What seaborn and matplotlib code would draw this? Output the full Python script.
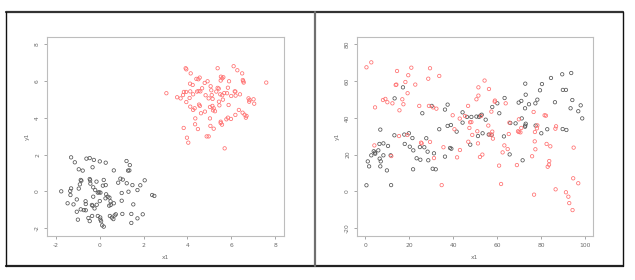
import numpy as np
import pandas as pd
import matplotlib
matplotlib.use("Agg")
import matplotlib.pyplot as plt
import seaborn as sns
from matplotlib.lines import Line2D

# ---------------- data ----------------
left_black_x = [-1.31, -1.14, -0.61, -0.46, -0.27, 0.00, 0.27, 1.22, 1.37, -0.96, -0.78, -0.33, 0.64, 1.29, 1.35,
                -0.87, -0.84, -0.46, -0.44, -0.15, 0.18, -0.91, -0.43, 0.14, 0.27, 0.84, 0.94, 1.05, 1.23, 1.49,
                1.85, 2.05, -0.96, -0.30, -0.21, -1.31, -1.76, -1.35, -0.09, -0.03, 0.03, 1.31, 1.00, 1.72, -1.34,
                0.29, 0.36, 0.44, -0.30, 0.00, 0.49, 0.26, -1.05, -1.47, -1.20, -0.65, -0.64, -0.36, -0.33, -0.14,
                0.64, 0.43, 0.50, 1.00, 1.53, 2.39, 2.49, -0.24, -0.87, -0.73, -0.64, -1.05, 0.73, 0.68, 0.46,
                0.55, 0.62, 1.03, 1.44, 1.96, 1.72, -0.52, -0.46, -0.35, -0.09, 0.02, 0.03, 0.06, 0.11, 0.18,
                -1.00, 1.44]
left_black_y = [1.85, 1.58, 1.78, 1.81, 1.71, 1.63, 1.56, 1.65, 1.43, 1.20, 1.13, 1.31, 1.14, 1.13, 1.14,
                0.62, 0.58, 0.67, 0.60, 0.53, 0.62, 0.38, 0.42, 0.31, 0.34, 0.47, 0.69, 0.64, 0.44, 0.34,
                0.33, 0.60, 0.15, 0.22, 0.07, 0.16, 0.00, 0.02, -0.07, -0.05, -0.07, -0.02, -0.09, 0.07, -0.20,
                -0.16, -0.29, -0.34, -0.29, -0.53, -0.54, -0.38, -0.44, -0.65, -0.71, -0.54, -0.69, -0.74, -0.78, -0.73,
                -0.65, -0.78, -0.74, -0.51, -0.71, -0.20, -0.25, -0.93, -0.98, -1.02, -1.03, -1.11, -1.25, -1.31, -1.34,
                -1.43, -1.51, -1.23, -1.23, -1.25, -1.47, -1.45, -1.62, -1.34, -1.34, -1.42, -1.54, -1.63, -1.85, -1.92,
                -1.54, -1.72]

left_red_x = [3.92, 3.95, 4.15, 3.04, 3.53, 3.69, 3.80, 3.84, 3.94, 3.95, 4.10, 4.13, 4.12, 4.24, 4.26,
              4.41, 4.50, 4.56, 4.44, 4.51, 4.59, 4.67, 4.79, 4.92, 4.97, 4.83, 4.57, 4.53, 4.13, 4.26,
              4.33, 5.09, 5.06, 5.11, 5.15, 5.03, 5.14, 5.20, 5.17, 5.26, 5.32, 5.38, 5.43, 5.44, 5.46,
              5.50, 5.53, 5.52, 5.59, 5.64, 5.59, 5.62, 5.68, 5.81, 5.85, 5.88, 5.90, 6.00, 6.11, 6.19,
              6.20, 6.16, 6.28, 6.35, 6.40, 6.50, 6.53, 6.55, 6.57, 6.52, 6.61, 6.67, 6.70, 6.79, 6.82,
              6.84, 7.02, 7.05, 7.60, 4.36, 4.35, 4.48, 3.83, 5.03, 5.05, 5.20, 5.52, 5.52, 5.58, 5.78,
              5.85, 5.99, 6.19, 3.98, 4.04, 4.88, 4.97, 5.70, 5.38, 4.80, 4.62]
left_red_y = [6.70, 6.64, 6.42, 5.34, 5.12, 5.06, 5.24, 5.41, 5.41, 4.86, 5.08, 5.44, 5.86, 5.79, 5.28,
              6.12, 6.10, 6.19, 5.43, 5.46, 5.44, 5.61, 5.90, 5.99, 5.06, 5.23, 4.65, 4.72, 4.61, 4.43,
              4.52, 5.50, 5.72, 5.24, 5.03, 4.59, 4.65, 4.52, 4.41, 4.36, 5.43, 5.63, 5.59, 4.88, 4.68,
              5.28, 6.24, 6.03, 6.15, 6.21, 5.23, 4.99, 5.35, 5.34, 5.64, 4.70, 5.99, 5.19, 6.81, 5.43,
              5.21, 5.44, 6.59, 4.43, 5.28, 6.42, 6.06, 5.99, 5.92, 4.28, 4.17, 4.01, 4.10, 5.06, 4.88,
              4.97, 5.01, 4.77, 5.92, 3.97, 3.65, 3.39, 3.45, 3.97, 3.56, 3.41, 3.79, 3.72, 3.63, 3.92,
              4.01, 3.94, 4.16, 2.92, 2.65, 2.99, 2.99, 2.34, 6.70, 4.34, 4.25]

right_red_x = [0.5, 2.7, 4.4, 4.1, 8.0, 9.1, 10.0, 12.3, 11.8, 14.4, 14.1, 13.8, 15.5, 15.3, 16.8,
               17.3, 18.2, 19.2, 19.5, 19.1, 20.9, 22.7, 24.5, 25.6, 25.3, 29.4, 28.6, 28.9, 29.4, 30.8,
               31.2, 32.3, 33.6, 34.7, 35.5, 39.7, 40.5, 41.7, 43.0, 42.9, 45.3, 46.7, 46.8, 47.3, 47.6,
               48.2, 48.6, 51.4, 51.4, 50.5, 50.9, 51.2, 52.1, 53.2, 52.6, 54.2, 55.9, 56.2, 56.5, 57.3,
               57.4, 58.0, 57.7, 58.9, 58.8, 60.8, 61.7, 62.4, 63.2, 63.8, 64.7, 65.5, 65.2, 68.9, 69.4,
               69.8, 69.8, 70.5, 70.9, 75.8, 76.5, 77.0, 77.1, 77.3, 76.7, 78.0, 78.2, 81.5, 82.1, 82.4,
               82.9, 83.6, 83.5, 84.1, 86.4, 86.5, 86.7, 91.2, 92.3, 92.7, 94.2, 94.5, 94.7, 96.8]
right_red_y = [67.5, 70.2, 45.7, 25.0, 49.7, 50.3, 48.5, 47.9, 19.2, 65.5, 58.1, 57.9, 44.1, 30.1, 50.1,
               47.4, 59.5, 53.4, 63.2, 30.7, 67.3, 58.1, 46.5, 26.1, 26.5, 67.0, 61.3, 46.5, 26.9, 45.7,
               18.1, 45.0, 62.8, 3.4, 24.0, 41.4, 33.8, 18.5, 22.5, 39.6, 41.0, 46.5, 27.0, 34.5, 37.6,
               37.7, 30.7, 56.6, 52.1, 50.1, 32.7, 26.1, 18.7, 20.0, 41.0, 60.3, 35.8, 55.7, 30.9, 43.4,
               30.9, 28.7, 32.5, 49.4, 48.8, 14.0, 4.0, 21.2, 25.0, 47.9, 23.0, 37.4, 31.2, 14.3, 32.7,
               39.2, 32.3, 32.1, 34.5, 19.1, 43.2, 27.2, 32.3, 22.9, -1.8, 34.3, 35.9, 41.4, 41.2, 25.8,
               13.4, 16.5, 14.5, 24.5, 34.1, 1.1, 35.4, -0.5, -2.9, -6.4, -10.2, 7.1, 23.8, 4.4]

right_black_x = [0.5, 1.1, 1.7, 2.7, 3.8, 4.4, 4.5, 5.9, 6.5, 6.8, 7.0, 6.4, 6.8, 8.2, 8.2,
                 10.3, 9.8, 11.5, 11.7, 13.3, 13.2, 17.1, 17.7, 17.9, 19.8, 20.2, 21.4, 21.7, 21.8, 23.3,
                 24.8, 25.0, 25.9, 26.8, 27.7, 28.3, 28.6, 30.2, 30.6, 31.2, 32.0, 33.6, 36.2, 37.4, 37.4,
                 38.9, 38.5, 39.1, 36.2, 41.5, 44.2, 44.2, 46.2, 47.7, 48.2, 50.5, 51.2, 51.7, 52.3, 52.9,
                 53.3, 54.7, 56.1, 57.4, 57.7, 60.0, 60.9, 63.0, 63.3, 65.6, 65.9, 68.3, 69.7, 70.9, 71.1,
                 72.6, 72.6, 72.7, 72.9, 72.7, 72.9, 74.4, 77.4, 77.3, 78.2, 79.4, 80.0, 80.3, 82.7, 84.4,
                 86.2, 89.5, 89.8, 91.2, 91.4, 89.7, 93.6, 94.1, 93.3, 96.8, 97.9, 98.6, 71.5]
right_black_y = [3.3, 16.3, 13.6, 19.6, 21.8, 21.1, 20.5, 22.3, 17.8, 13.6, 16.3, 25.8, 33.6, 26.1, 19.6,
                 24.7, 11.4, 19.6, 3.4, 50.6, 30.5, 56.6, 30.9, 25.8, 31.6, 24.3, 29.0, 12.0, 22.3, 18.0,
                 24.1, 17.2, 42.5, 24.0, 28.9, 21.6, 16.9, 46.5, 12.3, 20.7, 12.0, 33.8, 44.5, 47.2, 35.6,
                 36.1, 23.6, 23.2, 18.9, 32.5, 43.0, 37.4, 40.5, 25.4, 40.5, 40.7, 30.1, 40.5, 41.2, 41.7,
                 31.6, 39.0, 30.9, 30.7, 45.9, 47.9, 42.5, 29.9, 50.8, 20.1, 37.2, 37.0, 48.3, 49.2, 39.7,
                 45.2, 35.2, 35.8, 36.8, 58.6, 52.6, 47.4, 35.8, 47.9, 49.9, 55.0, 31.6, 58.4, 33.8, 61.7,
                 48.5, 63.7, 55.2, 55.2, 33.4, 33.9, 64.4, 49.7, 45.2, 43.6, 46.8, 39.7, 16.9]

left_xticks = [-2, 0, 2, 4, 6, 8]
left_yticks = [-2, 0, 2, 4, 6, 8]
right_xticks = [0, 20, 40, 60, 80, 100]
right_yticks = [-20, 0, 20, 40, 60, 80]
x_label = "x1"
y_label = "y1"

# ---------------- figure ----------------
sns.set_style("white")
plt.rcParams["font.family"] = ["DejaVu Sans"]

fig = plt.figure(figsize=(6.35, 2.8), dpi=100)
fig.patch.set_facecolor("white")

W, H = 635, 280
def ax_rect(x0, x1, y0, y1):
    return [x0 / W, 1 - y1 / H, (x1 - x0) / W, (y1 - y0) / H]

ax1 = fig.add_axes(ax_rect(47, 284, 37, 236))
ax2 = fig.add_axes(ax_rect(357, 593, 37, 236))

RED = "#ff7070"
BLACK = "#555555"
GRAY = "#999999"
TXT = "#6a6a6a"

def draw(ax, bx, by, rx, ry, xlim, ylim, xt, yt):
    dfb = pd.DataFrame({"x": bx, "y": by})
    dfr = pd.DataFrame({"x": rx, "y": ry})
    sns.scatterplot(data=dfb, x="x", y="y", ax=ax, marker="o", s=6,
                    facecolor="none", edgecolor=BLACK, linewidth=0.55)
    sns.scatterplot(data=dfr, x="x", y="y", ax=ax, marker="o", s=6,
                    facecolor="none", edgecolor=RED, linewidth=0.55)
    ax.set_xlim(*xlim)
    ax.set_ylim(*ylim)
    ax.set_xticks(xt)
    ax.set_yticks(yt)
    ax.set_xticklabels([str(v) for v in xt], fontsize=4.3, color=TXT)
    ax.set_yticklabels([str(v) for v in yt], fontsize=4.3, color=TXT,
                       rotation=90, va="center")
    ax.tick_params(axis="both", length=2.5, width=0.6, color=GRAY, pad=2.5,
                   direction="out", bottom=True, left=True)
    for sp in ax.spines.values():
        sp.set_color("#bdbdbd")
        sp.set_linewidth(0.8)
    ax.set_xlabel(x_label, fontsize=4.3, color=TXT, labelpad=5)
    ax.set_ylabel(y_label, fontsize=4.3, color=TXT, labelpad=4)
    ax.set_facecolor("white")

draw(ax1, left_black_x, left_black_y, left_red_x, left_red_y,
     (-2.41, 8.41), (-2.43, 8.4), left_xticks, left_yticks)
draw(ax2, right_black_x, right_black_y, right_red_x, right_red_y,
     (-3.8, 103.5), (-24.3, 84.0), right_xticks, right_yticks)

# outer frame and divider
def fline(x0, y0, x1, y1, color, lw):
    fig.add_artist(Line2D([x0 / W, x1 / W], [1 - y0 / H, 1 - y1 / H],
                          color=color, linewidth=lw, transform=fig.transFigure))

fline(6, 12, 623, 12, "#333333", 1.6)
fline(6, 266, 623, 266, "#222222", 1.6)
fline(6, 12, 6, 266, "#111111", 1.0)
fline(623, 12, 623, 266, "#111111", 1.0)
fline(315, 12, 315, 266, "#6f6f6f", 1.6)

fig.savefig("out.png", dpi=100, facecolor="white")
